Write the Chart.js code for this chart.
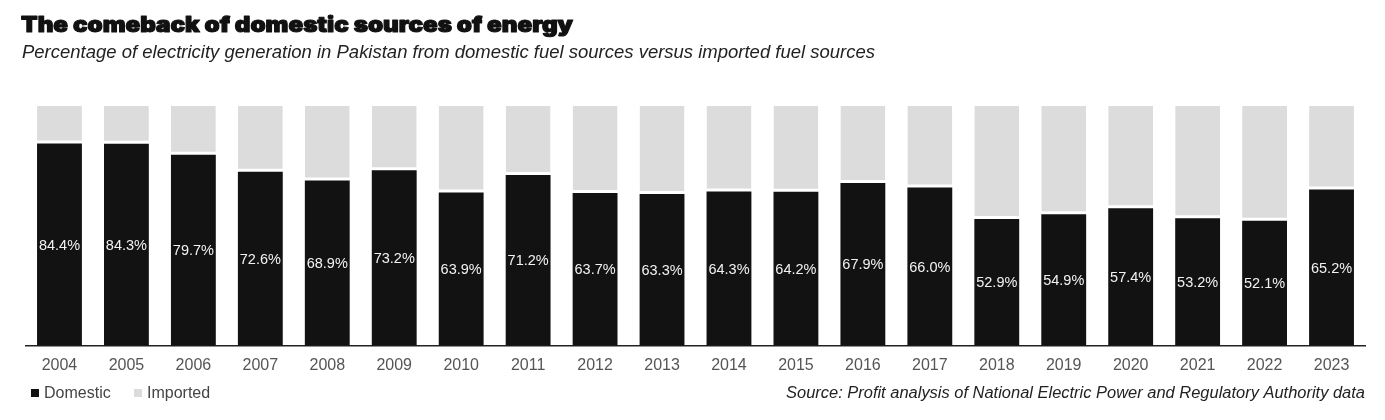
<!DOCTYPE html>
<html>
<head>
<meta charset="utf-8">
<script src="https://cdn.jsdelivr.net/npm/chart.js@4.4.1/dist/chart.umd.min.js"></script>
<style>
  html, body { margin: 0; padding: 0; background: #ffffff; }
  #wrap { position: relative; width: 1385px; height: 420px; }
</style>
</head>
<body>
<div id="wrap"><canvas id="c" width="1385" height="420"></canvas></div>
<script>
const years = ["2004","2005","2006","2007","2008","2009","2010","2011","2012","2013","2014","2015","2016","2017","2018","2019","2020","2021","2022","2023"];
const domestic = [84.4, 84.3, 79.7, 72.6, 68.9, 73.2, 63.9, 71.2, 63.7, 63.3, 64.3, 64.2, 67.9, 66.0, 52.9, 54.9, 57.4, 53.2, 52.1, 65.2];
const imported = [15.6, 15.7, 20.3, 27.4, 31.1, 26.8, 36.1, 28.8, 36.3, 36.7, 35.7, 35.8, 32.1, 34.0, 47.1, 45.1, 42.6, 46.8, 47.9, 34.8];
const seriesNames = ["Domestic", "Imported"];
const seriesColors = ["#121212", "#dcdcdc"];
const titleText = "The comeback of domestic sources of energy";
const subtitleText = "Percentage of electricity generation in Pakistan from domestic fuel sources versus imported fuel sources";
const sourceText = "Source: Profit analysis of National Electric Power and Regulatory Authority data";

function fitText(ctx, text, x, y, width, align, stroke) {
  const w = ctx.measureText(text).width;
  const s = width / w;
  ctx.save();
  ctx.textAlign = 'left';
  const startX = align === 'right' ? x - width : x;
  ctx.translate(startX, y);
  ctx.scale(s, 1);
  ctx.fillText(text, 0, 0);
  if (stroke) {
    ctx.lineWidth = stroke;
    ctx.lineJoin = 'round';
    ctx.strokeStyle = ctx.fillStyle;
    ctx.strokeText(text, 0, 0);
  }
  ctx.restore();
}

const textPlugin = {
  id: 'texts',
  afterDatasetsDraw(chart) {
    const ctx = chart.ctx;
    const meta = chart.getDatasetMeta(0);
    ctx.save();
    ctx.fillStyle = '#f2f2f2';
    ctx.font = '14.5px "Liberation Sans", Arial, sans-serif';
    ctx.textAlign = 'center';
    ctx.textBaseline = 'middle';
    meta.data.forEach((bar, i) => {
      const v = chart.data.datasets[0].data[i];
      ctx.fillText(v.toFixed(1) + '%', bar.x, (bar.y + bar.base) / 2 + 1);
    });
    ctx.restore();
  },
  afterDraw(chart) {
    const ctx = chart.ctx;
    ctx.save();
    ctx.textBaseline = 'alphabetic';
    ctx.fillStyle = '#111111';
    ctx.font = '900 21px Inter, "DejaVu Sans", sans-serif';
    fitText(ctx, titleText, 21, 32, 552, 'left', 1.1);
    ctx.fillStyle = '#222222';
    ctx.font = 'italic 18px "Liberation Sans", Arial, sans-serif';
    fitText(ctx, subtitleText, 22, 58, 853, 'left', 0);
    ctx.font = 'italic 16px "Liberation Sans", Arial, sans-serif';
    fitText(ctx, sourceText, 1365, 398, 579, 'right', 0);

    // legend
    ctx.font = '16px "Liberation Sans", Arial, sans-serif';
    ctx.textBaseline = 'middle';
    ctx.textAlign = 'left';
    const lx = [31, 134];
    seriesNames.forEach((name, i) => {
      ctx.fillStyle = seriesColors[i];
      ctx.fillRect(lx[i], 389, 8, 8);
      ctx.fillStyle = '#444444';
      ctx.fillText(name, lx[i] + 13, 394);
    });
    ctx.restore();
  }
};

new Chart(document.getElementById('c'), {
  type: 'bar',
  data: {
    labels: years,
    datasets: [
      { label: seriesNames[0], data: domestic, backgroundColor: seriesColors[0], borderWidth: 0, barPercentage: 0.67, categoryPercentage: 1.0 },
      { label: seriesNames[1], data: imported, backgroundColor: seriesColors[1], borderColor: '#ffffff', borderSkipped: false, borderWidth: {top: 0, left: 0, right: 0, bottom: 3}, barPercentage: 0.67, categoryPercentage: 1.0 }
    ]
  },
  options: {
    responsive: false,
    animation: false,
    layout: { padding: { left: 26, right: 20, top: 106, bottom: 35 } },
    plugins: {
      legend: { display: false },
      tooltip: { enabled: false },
      title: { display: false }
    },
    scales: {
      x: {
        stacked: true,
        grid: { display: false, drawTicks: false, tickLength: 0 },
        border: { display: true, color: '#222222', width: 1.5 },
        ticks: { color: '#555555', padding: 10, font: { family: '"Liberation Sans", Arial, sans-serif', size: 16 } }
      },
      y: {
        stacked: true,
        display: false,
        min: 0, max: 100
      }
    }
  },
  plugins: [textPlugin]
});
</script>
</body>
</html>
